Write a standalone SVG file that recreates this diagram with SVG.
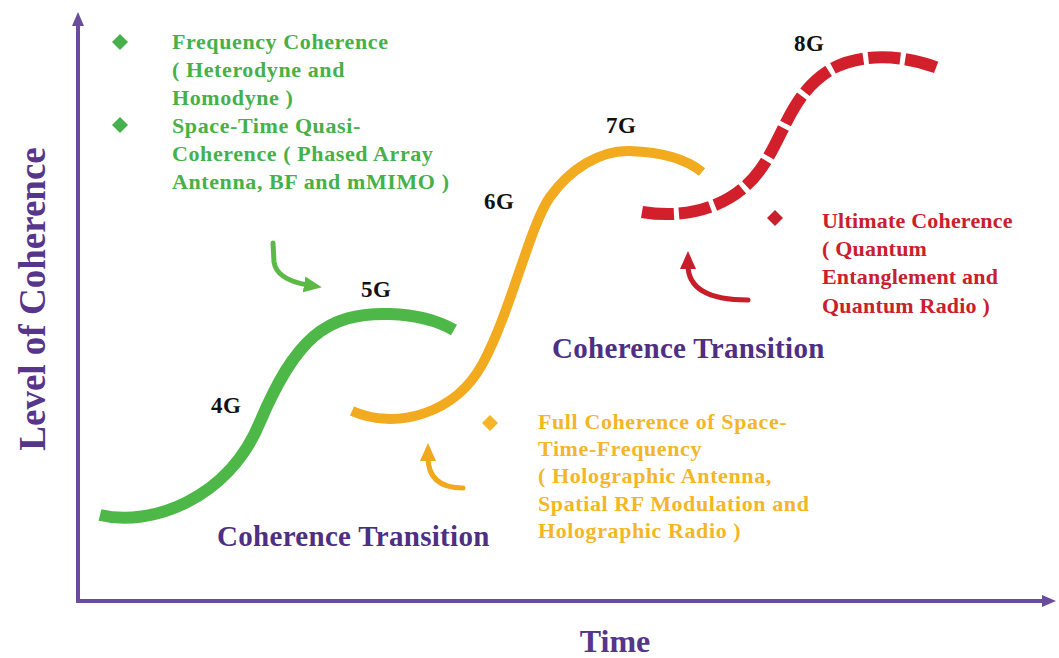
<svg xmlns="http://www.w3.org/2000/svg" width="1059" height="658" viewBox="0 0 1059 658">
<defs>
<style>
.serif{font-family:"Liberation Serif","Times New Roman",serif;font-weight:bold}
.gen{font-size:23px;fill:#111;letter-spacing:0.5px}
.gtxt{font-size:22px;fill:#46b04a;letter-spacing:0.6px}
.otxt{font-size:22px;fill:#f4b627;letter-spacing:0.6px}
.rtxt{font-size:22px;fill:#c8202c;letter-spacing:0.2px}
.trans{font-size:29px;fill:#4e2f82;letter-spacing:0.3px}
.axislbl{fill:#56358a}
.curve{fill:none;stroke-linecap:butt}
.conn{fill:none;stroke-width:5;stroke-linecap:round}
</style>
<marker id="ahPurple" markerUnits="userSpaceOnUse" markerWidth="16" markerHeight="16" refX="4" refY="8" orient="auto"><path d="M0,2 L14,8 L0,14 Z" fill="#6a4c9c"/></marker>
<marker id="ahGreen" markerUnits="userSpaceOnUse" markerWidth="20" markerHeight="20" refX="4" refY="10" orient="auto"><path d="M0,2 L18,10 L0,18 Z" fill="#5cb946"/></marker>
<marker id="ahOrange" markerUnits="userSpaceOnUse" markerWidth="20" markerHeight="20" refX="4" refY="10" orient="auto"><path d="M0,2 L18,10 L0,18 Z" fill="#f0a91e"/></marker>
<marker id="ahRed" markerUnits="userSpaceOnUse" markerWidth="20" markerHeight="20" refX="4" refY="10" orient="auto"><path d="M0,2 L18,10 L0,18 Z" fill="#c81e2a"/></marker>
</defs>
<rect width="1059" height="658" fill="#ffffff"/>

<g id="axes">
<path d="M78,601 L78,22" stroke="#6a4c9c" stroke-width="4" fill="none" marker-end="url(#ahPurple)"/>
<path d="M76,601 L1046,601" stroke="#6a4c9c" stroke-width="4" fill="none" marker-end="url(#ahPurple)"/>
</g>
<g id="y-label"><text class="serif axislbl" font-size="37" text-anchor="middle" transform="translate(45,299) rotate(-90)">Level of Coherence</text></g>
<g id="x-label"><text class="serif axislbl" font-size="32" text-anchor="middle" x="615" y="652">Time</text></g>

<g id="curve-4g-5g"><path class="curve" d="M100,515 C150,527 228,500 260,422 C295,340 325,312 390,314 C420,315 440,322 454,330" stroke="#4db848" stroke-width="12"/></g>
<g id="curve-6g-7g"><path class="curve" d="M352,411 C395,430 455,415 483,363 S530,225 550,197 S600,150 630,151 S685,158 702,172" stroke="#f2aa1f" stroke-width="10"/></g>
<g id="curve-8g"><path class="curve" d="M642,212 C690,220 735,205 760,170 C785,135 790,95 830,70 C860,52 905,55 938,68" stroke="#d11f2b" stroke-width="12" stroke-dasharray="32 5"/></g>

<g id="label-4g"><text class="serif gen" x="211" y="413">4G</text></g>
<g id="label-5g"><text class="serif gen" x="361" y="297">5G</text></g>
<g id="label-6g"><text class="serif gen" x="484" y="209">6G</text></g>
<g id="label-7g"><text class="serif gen" x="606" y="133">7G</text></g>
<g id="label-8g"><text class="serif gen" x="794" y="51">8G</text></g>

<g id="green-notes">
<path d="M120,34 L128,42 L120,50 L112,42 Z" fill="#46b04a"/>
<path d="M120,117 L128,125 L120,133 L112,125 Z" fill="#46b04a"/>
<text class="serif gtxt" x="172" y="49">Frequency Coherence</text>
<text class="serif gtxt" x="172" y="77">( Heterodyne and</text>
<text class="serif gtxt" x="172" y="105">Homodyne )</text>
<text class="serif gtxt" x="172" y="133">Space-Time Quasi-</text>
<text class="serif gtxt" x="172" y="161">Coherence ( Phased Array</text>
<text class="serif gtxt" x="172" y="189">Antenna, BF and mMIMO )</text>
</g>

<g id="orange-notes">
<path d="M490,415 L498,423 L490,431 L482,423 Z" fill="#f4b627"/>
<text class="serif otxt" x="538" y="429">Full Coherence of Space-</text>
<text class="serif otxt" x="538" y="456">Time-Frequency</text>
<text class="serif otxt" x="538" y="483">( Holographic Antenna,</text>
<text class="serif otxt" x="538" y="511">Spatial RF Modulation and</text>
<text class="serif otxt" x="538" y="538">Holographic Radio )</text>
</g>

<g id="red-notes">
<path d="M775,210 L783,218 L775,226 L767,218 Z" fill="#c8202c"/>
<text class="serif rtxt" x="822" y="228">Ultimate Coherence</text>
<text class="serif rtxt" x="822" y="256">( Quantum</text>
<text class="serif rtxt" x="822" y="284">Entanglement and</text>
<text class="serif rtxt" x="822" y="313">Quantum Radio )</text>
</g>

<g id="transition-1"><text class="serif trans" x="217" y="546">Coherence Transition</text></g>
<g id="transition-2"><text class="serif trans" x="552" y="358">Coherence Transition</text></g>

<g id="connectors">
<path class="conn" d="M273,243 L274,262 C276,276 290,282 308,285" stroke="#5cb946" marker-end="url(#ahGreen)"/>
<path class="conn" d="M463,488 C440,488 428,478 428,457" stroke="#f0a91e" marker-end="url(#ahOrange)"/>
<path class="conn" d="M748,300 C702,300 688,285 688,265" stroke="#c81e2a" marker-end="url(#ahRed)"/>
</g>
</svg>
